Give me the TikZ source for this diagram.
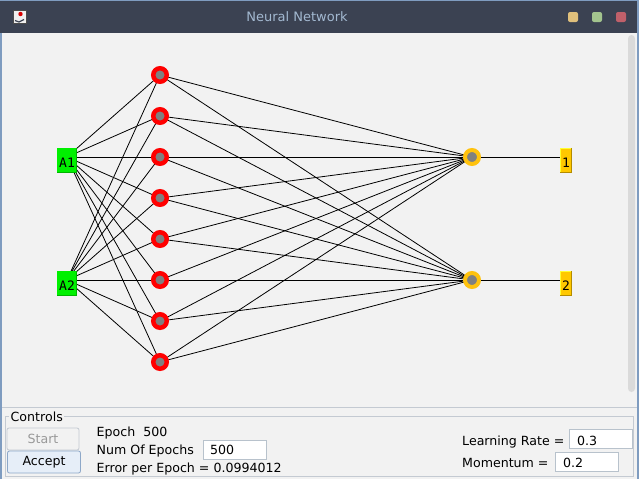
\documentclass[tikz,border=0pt]{standalone}
\usepackage{fontspec}
\setmainfont{DejaVu Sans}
\newfontfamily\monofnt{DejaVu Sans Mono}
\pgfdeclarelayer{bg}
\pgfdeclarelayer{edges}
\pgfsetlayers{bg,edges,main}
\definecolor{titlebg}{HTML}{3B4252}
\definecolor{titlefg}{HTML}{A3B9D1}
\definecolor{framec}{HTML}{7F9CC0}
\definecolor{panelbg}{HTML}{F2F2F2}
\definecolor{hidring}{HTML}{FF0000}
\definecolor{corec}{HTML}{808080}
\definecolor{outring}{HTML}{FFC20E}
\definecolor{inboxc}{HTML}{00F000}
\definecolor{inboxdk}{HTML}{00B400}
\definecolor{outboxc}{HTML}{FFC800}
\definecolor{outboxlt}{HTML}{FFFF30}
\definecolor{outboxdk}{HTML}{B48C00}
\definecolor{borderc}{HTML}{C4CAD2}
\definecolor{fieldc}{HTML}{B8C2CC}
\definecolor{scrollc}{HTML}{DADADA}
\definecolor{acceptbg}{HTML}{E6EEF8}
\definecolor{acceptbd}{HTML}{8EA8C8}
\definecolor{btnyel}{HTML}{E0C07C}
\definecolor{btngrn}{HTML}{A3C48E}
\definecolor{btnred}{HTML}{C0606A}
\begin{document}
\begin{tikzpicture}[x=1pt,y=-1pt,
  ui/.style={font=\fontsize{12.6}{15}\selectfont, inner sep=0pt},
  lbl/.style={ui, anchor=base west},
  hid/.style={circle, inner sep=0pt, minimum size=13.5pt, line width=4.5pt, draw=hidring, fill=corec},
  outn/.style={circle, inner sep=0pt, minimum size=14pt, line width=4pt, draw=outring, fill=corec},
  inbx/.style={rectangle, inner sep=0pt, minimum width=20pt, minimum height=25pt, text height=13pt, text depth=0pt, fill=inboxc, font=\monofnt\fontsize{13}{15}\selectfont},
  outbx/.style={rectangle, inner sep=0pt, minimum width=12pt, minimum height=25pt, text height=13pt, text depth=0pt, fill=outboxc, font=\monofnt\fontsize{13}{15}\selectfont},
  edge/.style={draw=black, line width=0.8pt},
  winbtn/.style={rectangle, rounded corners=2pt, minimum size=10pt, inner sep=0pt},
  field/.style={rectangle, draw=fieldc, fill=white, line width=0.8pt, inner sep=0pt, minimum height=19pt},
  btn/.style={rectangle, rounded corners=2pt, line width=0.8pt, inner sep=0pt, minimum width=72pt, minimum height=22pt, font=\fontsize{12.6}{15}\selectfont}
]
\useasboundingbox (0,0) rectangle (639,479);
\begin{pgfonlayer}{bg}
  % window frame and title bar
  \fill[framec] (0,0) rectangle (639,479);
  \fill[titlebg] (0,1) rectangle (637,33);
  \fill[panelbg] (2,33) rectangle (637,479);
  % scrollbar
  \fill[scrollc, rounded corners=3.5pt] (628,35) rectangle (635,392);
  % separator
  \draw[borderc, line width=1pt] (2,407.5) -- (637,407.5);
  % controls titled border
  \draw[borderc, line width=1pt] (5.5,416.5) rectangle (633.5,476.5);
\end{pgfonlayer}
% title bar content
\node[font=\fontsize{13}{15}\selectfont, text=titlefg, anchor=base, inner sep=0pt] (title) at (297,21) {Neural Network};
\node[winbtn, fill=btnyel] (wb1) at (573,17) {};
\node[winbtn, fill=btngrn] (wb2) at (597,17) {};
\node[winbtn, fill=btnred] (wb3) at (621,17) {};
\node[rectangle, fill=white!88!gray, draw=gray!60!black, line width=0.6pt, minimum size=13pt, inner sep=0pt] (icon) at (19.5,17) {};
\fill[red!85!black] (20.5,14) circle (2.2);
\draw[titlebg, line width=1.2pt] (15,20.5) -- (19,22) -- (24,19.5);
% network nodes
\coordinate (s1) at (67,157);
\coordinate (s2) at (67,280);
\node[inbx] (A1) at (67,160.5) {A1};
\node[inbx] (A2) at (67,283.5) {A2};
\foreach \k in {1,...,8} {
  \node[hid] (h\k) at (160,{75+41*(\k-1)}) {};
}
\node[outn] (o1) at (472,157) {};
\node[outn] (o2) at (472,280) {};
\node[outbx] (Y1) at (566,160.5) {1};
\node[outbx] (Y2) at (566,283.5) {2};
% 3D borders of the boxes
\foreach \b in {A1,A2} {
  \draw[inboxdk, line width=1pt] ([xshift=-0.5pt]\b.north east) -- ([xshift=-0.5pt,yshift=0.5pt]\b.south east) -- ([yshift=0.5pt]\b.south west);
}
\foreach \b in {Y1,Y2} {
  \draw[outboxlt, line width=1pt] ([yshift=0.5pt]\b.south west) ++(0.5,0) -- ([xshift=0.5pt,yshift=-0.5pt]\b.north west) -- ([yshift=-0.5pt]\b.north east);
  \draw[outboxdk, line width=1pt] ([xshift=-0.5pt]\b.north east) -- ([xshift=-0.5pt,yshift=0.5pt]\b.south east) -- ([yshift=0.5pt]\b.south west);
}
% connectors
\begin{pgfonlayer}{edges}
  \foreach \i in {1,2} {
    \foreach \k in {1,...,8} {
      \draw[edge] (s\i) -- (h\k.center);
      \draw[edge] (h\k.center) -- (o\i.center);
    }
  }
  \draw[edge] (o1.center) -- (o1.center -| Y1.west);
  \draw[edge] (o2.center) -- (o2.center -| Y2.west);
\end{pgfonlayer}
% controls
\node[lbl, fill=panelbg, inner xsep=1.5pt] (ctl) at (9,421) {Controls};
\node[btn, draw=borderc, fill=panelbg, text=gray!80] (start) at (43,439) {Start};
\node[btn, draw=acceptbd, fill=acceptbg, minimum width=73pt] (accept) at (44,462) {Accept};
\node[lbl] (epoch) at (96.5,436.5) {Epoch\ \ 500};
\node[lbl] (numep) at (96.5,454.5) {Num Of Epochs};
\node[field, minimum width=63pt] (numf) at (234.5,450) {};
\node[lbl] (numv) at (210,454.5) {500};
\node[lbl] (err) at (96.5,472) {Error per Epoch = 0.0994012};
\node[lbl] (lr) at (462,445) {Learning Rate =};
\node[field, minimum width=63pt] (lrf) at (601,439) {};
\node[lbl] (lrv) at (577,445) {0.3};
\node[lbl] (mom) at (462,467) {Momentum =};
\node[field, minimum width=63pt] (momf) at (587,461.5) {};
\node[lbl] (momv) at (563,467) {0.2};
\end{tikzpicture}
\end{document}
